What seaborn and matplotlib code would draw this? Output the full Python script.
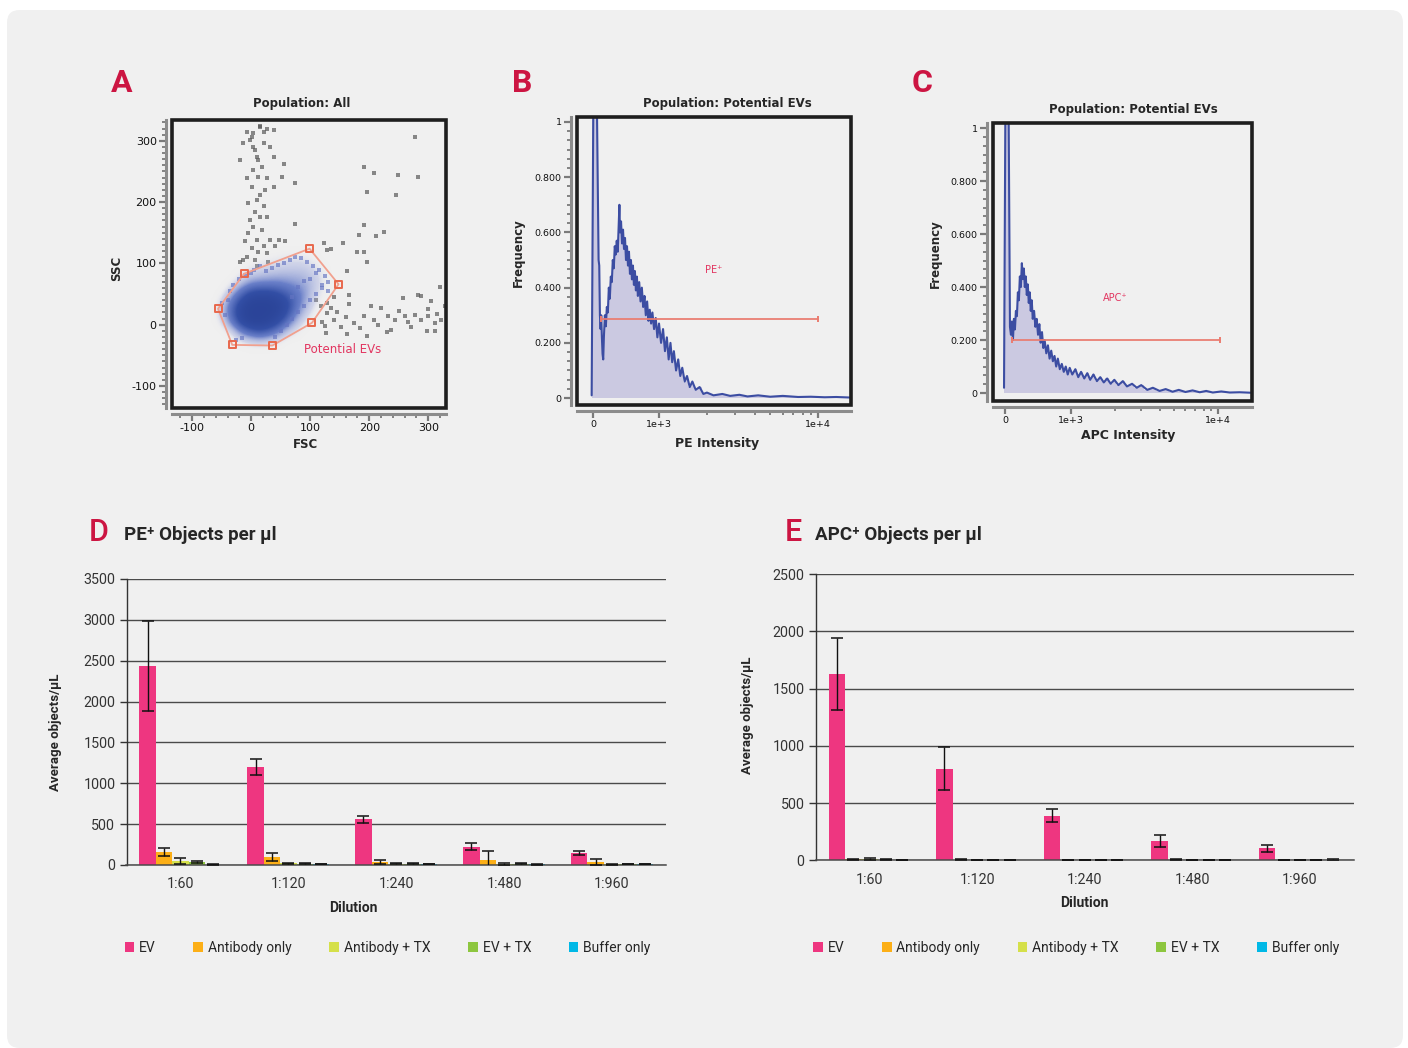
import matplotlib
matplotlib.use("Agg")
import matplotlib.pyplot as plt
from matplotlib.patches import FancyBboxPatch, Rectangle
from matplotlib.colors import LinearSegmentedColormap
from matplotlib.ticker import FixedLocator, MultipleLocator
import numpy as np
import pandas as pd
import seaborn as sns

sns.set_theme(style="white")
plt.rcParams['font.family'] = ['DejaVu Sans']
plt.rcParams['axes.unicode_minus'] = False

# ---- panel A: sparse events outside the gate ----
grey_fsc = [-19, -13, -7, -2, 4, 10, 15, 21, 18, 12, 1, 10, 21, 15, 4, -5, 10, 21, 1, -7,
            7, -13, 27, 32, 27, 24, 32, 38, 4, 12, -5, 18, 12, -2, 27, -7, 7, 1, 21, 15,
            7, -10, 29, -19, 10, 41, 4, 27, 15, 38, 38, 47, 58, 55, 52, 75, 75,
            191, 208, 248, 282, 277, 245, 197, 191, 225, 211, 183, 180, 191, 197, 155, 129, 135, 124, 163, 166,
            129, 140, 152, 174, 191, 208, 231, 243, 260, 277, 288, 299, 311, 322, 257, 282, 305, 319, 288, 271,
            237, 197, 163, 126, 118, 129, 135, 166, 220, 203, 297, 311, 328, 120, 145, 160, 215, 250, 265, 300,
            315, 185, 230, 110, 140, 125]
grey_ssc = [269, 296, 315, 301, 290, 274, 323, 315, 258, 241, 225, 203, 193, 176, 160, 149, 138, 128, 125, 111,
            106, 106, 117, 138, 176, 220, 290, 318, 252, 269, 198, 155, 119, 171, 239, 239, 285, 307, 296, 212,
            184, 136, 103, 103, 95, 128, 312, 320, 324, 274, 225, 138, 136, 262, 241, 231, 165,
            258, 247, 244, 241, 307, 212, 217, 163, 152, 144, 147, 119, 118, 102, 133, 122, 123, 133, 87, 49,
            19, 8, -3, 3, 14, 8, 14, 8, 14, 16, 8, 14, 3, 8, 43, 49, 38, 62, 46, -3,
            -8, -19, -16, -14, 30, 35, 27, 33, 27, 30, -11, -11, 30, 5, 20, 12, 0, 22, 5, 25,
            18, -5, -12, 40, 45, -2]

# ---- panel A: loose events around the edge of the gated cloud ----
edge_fsc = [-40, -35, -45, -30, -20, -10, 0, 5, 15, 25, 35, 45, 55, 65, 75, 85, 95, 105, 115, 125,
            130, 120, 110, 100, 90, 80, 70, 60, 50, 40, -25, -15, -50, 100, 110, 120, 90, 80, 70, 130]
edge_ssc = [40, 55, 15, 65, 75, 80, 85, 90, 95, 88, 92, 98, 100, 105, 110, 108, 102, 95, 90, 80,
            70, 60, 50, 40, 30, 20, 10, 0, -10, -20, -25, -22, 35, 75, 85, 65, 72, 62, 45, 55]

# ---- panel A: density of the gated cloud on a coarse grid ----
cloud_fsc = [-60, -45, -30, -15, 0, 15, 30, 45, 60, 75, 90, 105, 120, 135, 150]
cloud_ssc = [-40, -25, -10, 5, 20, 35, 50, 65, 80, 95, 110, 125]
cloud_density = [
    [0, 0, 0, 0, 0, 0, 0, 0, 0, 0, 0, 0, 0, 0, 0],
    [0, 0, 0, .05, .1, .15, .1, .05, 0, 0, 0, 0, 0, 0, 0],
    [0, 0, .1, .4, .6, .7, .6, .4, .15, .05, 0, 0, 0, 0, 0],
    [0, .1, .45, .85, 1, 1, .95, .8, .5, .2, .05, 0, 0, 0, 0],
    [0, .2, .6, .95, 1, 1, 1, .95, .75, .4, .15, .03, 0, 0, 0],
    [0, .15, .5, .85, 1, 1, 1, .95, .8, .5, .25, .08, 0, 0, 0],
    [0, .03, .25, .55, .8, .85, .85, .75, .6, .45, .3, .12, .03, 0, 0],
    [0, 0, .05, .2, .35, .4, .4, .4, .35, .3, .25, .15, .05, 0, 0],
    [0, 0, 0, .05, .12, .15, .18, .2, .2, .2, .18, .12, .05, 0, 0],
    [0, 0, 0, 0, .03, .05, .07, .08, .1, .1, .1, .06, .02, 0, 0],
    [0, 0, 0, 0, 0, 0, .02, .03, .04, .05, .04, .02, 0, 0, 0],
    [0, 0, 0, 0, 0, 0, 0, 0, 0, 0, 0, 0, 0, 0, 0],
]
gate_fsc = [-12, 99, 148, 103, 36, -32, -56]
gate_ssc = [83, 124, 66, 3, -34, -33, 26]

# ---- panel B: PE histogram ----
pe_intensity = [-20, 5, 30, 60, 85, 95, 105, 115, 125, 135, 145, 155, 165, 180, 195, 210, 225, 240, 255, 270,
                285, 300, 315, 330, 345, 360, 375, 390, 400, 410, 425, 440, 455, 470, 485, 500, 515, 530, 545, 560,
                575, 590, 605, 620, 635, 650, 665, 680, 700, 720, 740, 760, 780, 800, 820, 840, 860, 880, 900, 925,
                950, 975, 1000, 1030, 1060, 1090, 1120, 1150, 1180, 1210, 1240, 1280, 1320, 1360, 1400, 1450, 1500,
                1560, 1620, 1700, 1800, 1900, 2000, 2200, 2500, 2800, 3200, 3600, 4200, 5000, 6000, 7500, 9000,
                11000, 13000, 16000]
pe_freq = [0.01, 1.05, 1.05, 1.05, 0.50, 0.48, 0.30, 0.25, 0.30, 0.22, 0.16, 0.14, 0.22, 0.30, 0.26, 0.33, 0.31,
           0.40, 0.36, 0.44, 0.42, 0.50, 0.47, 0.55, 0.52, 0.57, 0.53, 0.63, 0.70, 0.60, 0.64, 0.56, 0.61, 0.54,
           0.58, 0.50, 0.55, 0.48, 0.53, 0.45, 0.50, 0.43, 0.48, 0.41, 0.46, 0.39, 0.44, 0.37, 0.42, 0.35, 0.40,
           0.33, 0.37, 0.30, 0.35, 0.28, 0.32, 0.27, 0.31, 0.25, 0.29, 0.22, 0.27, 0.20, 0.25, 0.17, 0.22, 0.14,
           0.20, 0.13, 0.17, 0.10, 0.14, 0.08, 0.11, 0.06, 0.08, 0.04, 0.06, 0.03, 0.04, 0.015, 0.02, 0.01, 0.015,
           0.008, 0.012, 0.006, 0.01, 0.005, 0.008, 0.004, 0.005, 0.003, 0.004, 0.002]
pe_gate = [121, 10040]
pe_gate_level = 0.285

# ---- panel C: APC histogram ----
apc_intensity = [-15, 5, 30, 55, 75, 90, 105, 120, 135, 150, 165, 180, 195, 210, 225, 240, 255, 270, 285, 300,
                 315, 330, 345, 360, 375, 390, 405, 420, 440, 460, 480, 500, 520, 540, 560, 580, 600, 625, 650,
                 675, 700, 725, 750, 775, 800, 830, 860, 890, 920, 950, 980, 1020, 1070, 1120, 1170, 1230, 1290,
                 1350, 1420, 1500, 1580, 1670, 1760, 1860, 1970, 2100, 2250, 2400, 2600, 2800, 3000, 3300, 3600,
                 4000, 4400, 4900, 5400, 6000, 6700, 7500, 8300, 9200, 10500, 12000, 14000, 17000]
apc_freq = [0.02, 1.05, 1.05, 1.05, 0.25, 0.22, 0.27, 0.20, 0.28, 0.24, 0.31, 0.29, 0.38, 0.35, 0.44, 0.40, 0.49,
            0.43, 0.47, 0.40, 0.44, 0.37, 0.41, 0.34, 0.38, 0.31, 0.35, 0.28, 0.31, 0.25, 0.28, 0.22, 0.26, 0.19,
            0.23, 0.17, 0.20, 0.15, 0.18, 0.13, 0.16, 0.12, 0.14, 0.10, 0.13, 0.09, 0.11, 0.08, 0.10, 0.07, 0.095,
            0.07, 0.09, 0.06, 0.08, 0.055, 0.075, 0.05, 0.07, 0.045, 0.06, 0.04, 0.055, 0.035, 0.05, 0.03, 0.045,
            0.025, 0.035, 0.02, 0.03, 0.012, 0.02, 0.008, 0.015, 0.005, 0.012, 0.004, 0.01, 0.003, 0.008, 0.002,
            0.006, 0.002, 0.003, 0.001]
apc_gate = [100, 10300]
apc_gate_level = 0.2

# ---- panels D / E: bar charts ----
dilutions = ['1:60', '1:120', '1:240', '1:480', '1:960']
conditions = ['EV', 'Antibody only', 'Antibody + TX', 'EV + TX', 'Buffer only']
colors = ['#ee3680', '#fcaf17', '#d5e04a', '#8dc63f', '#00b8e6']

pe_ev = [2440, 1200, 560, 225, 150]
pe_ev_err = [550, 95, 40, 45, 22]
pe_ab = [160, 95, 42, 60, 33]
pe_ab_err = [53, 50, 25, 110, 35]
pe_abtx = [45, 20, 15, 15, 10]
pe_abtx_err = [35, 6, 5, 15, 5]
pe_evtx = [35, 18, 15, 15, 12]
pe_evtx_err = [8, 4, 4, 5, 4]
pe_buf = [5, 15, 12, 8, 15]
pe_buf_err = [3, 3, 3, 3, 3]

apc_ev = [1630, 800, 390, 170, 105]
apc_ev_err = [315, 185, 55, 50, 32]
apc_ab = [8, 5, 3, 5, 2]
apc_ab_err = [4, 3, 2, 2, 2]
apc_abtx = [10, 4, 2, 2, 1]
apc_abtx_err = [8, 2, 1, 1, 1]
apc_evtx = [5, 2, 1, 1, 1]
apc_evtx_err = [2, 1, 1, 1, 1]
apc_buf = [3, 2, 2, 2, 0]
apc_buf_err = [1, 1, 1, 1, 10]

W, H = 1408, 1048
BG = '#f0f0f0'
RED = '#cc1542'
GATE_TXT = '#e23560'
HIST_LINE = '#3c4da2'
HIST_FILL = '#cbc9e1'

fig = plt.figure(figsize=(W / 100, H / 100), dpi=100, facecolor='white')
fig.add_artist(FancyBboxPatch((7 / W, 0), (1403 - 7) / W, (H - 10) / H,
                              boxstyle='round,pad=0,rounding_size=0.009', mutation_aspect=W / H,
                              transform=fig.transFigure, facecolor=BG, edgecolor='none', zorder=-5))


def ftext(x, y, s, **kw):
    kw.setdefault('ha', 'center')
    kw.setdefault('va', 'center')
    fig.text(x / W, 1 - y / H, s, **kw)


def box(x0, y0, x1, y1):
    return [x0 / W, 1 - y1 / H, (x1 - x0) / W, (y1 - y0) / H]


def flow_axes(ax):
    ax.set_facecolor(BG)
    for side in ['top', 'right']:
        ax.spines[side].set_visible(False)
    for side in ['left', 'bottom']:
        ax.spines[side].set_position(('outward', 4))
        ax.spines[side].set_color('#8c8c8c')
        ax.spines[side].set_linewidth(2.2)
    ax.add_patch(Rectangle((0, 0), 1, 1, transform=ax.transAxes, fill=False,
                           edgecolor='#1e1e1e', lw=2.6, clip_on=False, zorder=6))
    ax.tick_params(which='both', direction='out', colors='#7a7a7a', labelcolor='#111111',
                   left=True, bottom=True)
    ax.tick_params(which='major', length=5, width=1.6, pad=2)
    ax.tick_params(which='minor', length=3, width=1.3)


# ================= A =================
axA = fig.add_axes(box(172, 120, 446, 408))
flow_axes(axA)
sns.scatterplot(x=grey_fsc, y=grey_ssc, s=5, marker='s', color='#5a5a5a', alpha=0.7,
                linewidth=0, ax=axA, zorder=2)
cloud_cmap = LinearSegmentedColormap.from_list('cloud', [
    (0.0, (0.94, 0.94, 0.94, 0.0)),
    (0.08, (0.58, 0.63, 0.86, 0.35)),
    (0.35, (0.32, 0.42, 0.76, 0.85)),
    (0.7, (0.2, 0.31, 0.65, 1.0)),
    (1.0, (0.17, 0.27, 0.6, 1.0))])
step_f = cloud_fsc[1] - cloud_fsc[0]
step_s = cloud_ssc[1] - cloud_ssc[0]
axA.imshow(np.array(cloud_density), origin='lower', aspect='auto', interpolation='bicubic',
           cmap=cloud_cmap, vmin=0, vmax=1, zorder=3,
           extent=(cloud_fsc[0] - step_f / 2, cloud_fsc[-1] + step_f / 2,
                   cloud_ssc[0] - step_s / 2, cloud_ssc[-1] + step_s / 2))
sns.scatterplot(x=edge_fsc, y=edge_ssc, s=5, marker='s', color='#6474c2', alpha=0.65,
                linewidth=0, ax=axA, zorder=3)
axA.plot(gate_fsc + gate_fsc[:1], gate_ssc + gate_ssc[:1], color='#f1a08e', lw=1.3, zorder=4)
axA.scatter(gate_fsc, gate_ssc, marker='s', facecolors='none', edgecolors='#e8684c',
            s=26, linewidths=1.4, zorder=5)
axA.text(89, -40, 'Potential EVs', color=GATE_TXT, fontsize=8.5, ha='left', va='center')
axA.set_xlim(-134, 330)
axA.set_ylim(-136, 334)
axA.xaxis.set_major_locator(FixedLocator([-100, 0, 100, 200, 300]))
axA.yaxis.set_major_locator(FixedLocator([-100, 0, 100, 200, 300]))
axA.xaxis.set_minor_locator(MultipleLocator(20))
axA.yaxis.set_minor_locator(MultipleLocator(10))
axA.tick_params(labelsize=8)


# ================= B / C =================
def hist_panel(rect, intens, freq, gate, level, label, label_pos, linscale, xmin, xmax, ymin, ymax):
    ax = fig.add_axes(rect)
    flow_axes(ax)
    ax.set_xscale('symlog', linthresh=1000, linscale=linscale)
    ax.fill_between(intens, freq, step='mid', color=HIST_FILL, lw=0, zorder=2)
    sns.lineplot(x=intens, y=freq, color=HIST_LINE, lw=1.5, ax=ax, zorder=3, estimator=None)
    ax.plot(gate, [level, level], color='#ea7c70', lw=1.4, zorder=4, alpha=0.9)
    ax.plot(gate, [level, level], ls='none', marker='|', ms=5, mew=1.4, color='#ea7c70', zorder=4)
    ax.text(label_pos[0], label_pos[1], label, color=GATE_TXT, fontsize=7, ha='center', va='center')
    ax.set_xlim(xmin, xmax)
    ax.set_ylim(ymin, ymax)
    ax.set_xticks([0, 1000, 10000], ['0', '1e+3', '1e+4'])
    ax.xaxis.set_minor_locator(FixedLocator([2000, 3000, 4000, 5000, 6000, 7000, 8000, 9000]))
    ax.set_yticks([0, 0.2, 0.4, 0.6, 0.8, 1.0], ['0', '0.200', '0.400', '0.600', '0.800', '1'])
    ax.yaxis.set_minor_locator(MultipleLocator(0.2 / 6))
    ax.tick_params(labelsize=6.8)
    return ax


axB = hist_panel(box(577, 117, 851, 405), pe_intensity, pe_freq, pe_gate, pe_gate_level,
                 'PE⁺', (2220, 0.464), 0.3736, -242, 16100, -0.025, 1.018)
axC = hist_panel(box(993, 123, 1252, 401), apc_intensity, apc_freq, apc_gate, apc_gate_level,
                 'APC⁺', (2000, 0.36), 0.404, -182, 17000, -0.03, 1.019)

# flow panel texts
for x, y, s in [(111, 83, 'A'), (512, 83, 'B'), (912, 83, 'C')]:
    ftext(x, y, s, ha='left', color=RED, fontsize=23, fontweight='bold', family=['Roboto', 'DejaVu Sans'])
ftext(302, 104, 'Population: All', fontsize=8.5, fontweight='bold')
ftext(727, 104, 'Population: Potential EVs', fontsize=8.5, fontweight='bold')
ftext(1133, 109, 'Population: Potential EVs', fontsize=8.5, fontweight='bold')
ftext(117, 268, 'SSC', fontsize=8.5, fontweight='bold', rotation=90)
ftext(305, 444, 'FSC', fontsize=8.5, fontweight='bold')
ftext(518, 253, 'Frequency', fontsize=8.5, fontweight='bold', rotation=90)
ftext(717, 444, 'PE Intensity', fontsize=9, fontweight='bold')
ftext(935, 254, 'Frequency', fontsize=8.5, fontweight='bold', rotation=90)
ftext(1128, 435, 'APC Intensity', fontsize=9, fontweight='bold')

# ================= D / E =================
BAR_FONT = ['Roboto', 'DejaVu Sans']


def bar_panel(rect, means, errs, ymax, xlabel_x, ylabel_xy, legend_y):
    ax = fig.add_axes(rect)
    rows = []
    for cond, vals in zip(conditions, means):
        for dil, v in zip(dilutions, vals):
            rows.append({'Dilution': dil, 'Condition': cond, 'Objects': v})
    df = pd.DataFrame(rows)
    sns.barplot(data=df, x='Dilution', y='Objects', hue='Condition', hue_order=conditions,
                palette=colors, width=0.76, errorbar=None, saturation=1, linewidth=0, ax=ax)
    for cont, err in zip(ax.containers, errs):
        xs = [b.get_x() + b.get_width() / 2 for b in cont]
        ys = [b.get_height() for b in cont]
        ax.errorbar(xs, ys, yerr=err, fmt='none', ecolor='#111111', elinewidth=1,
                    capsize=4.5, capthick=1.1, zorder=4)
    ax.set_facecolor('none')
    ax.set_xlim(-0.5, 4.5)
    ax.set_ylim(0, ymax)
    ax.yaxis.set_major_locator(MultipleLocator(500))
    ax.yaxis.grid(True, color='#4a4a4a', lw=1)
    ax.set_axisbelow(True)
    for side in ['top', 'right']:
        ax.spines[side].set_visible(False)
    ax.spines['left'].set_color('#333333')
    ax.spines['left'].set_linewidth(1)
    ax.spines['bottom'].set_color('#4a4a4a')
    ax.spines['bottom'].set_linewidth(1.1)
    ax.tick_params(axis='y', direction='out', length=5, width=1, color='#333333', left=True,
                   labelsize=10.3, labelcolor='#333333', labelfontfamily='Roboto', pad=3)
    ax.tick_params(axis='x', length=0, labelsize=10.3, labelcolor='#333333',
                   labelfontfamily='Roboto', pad=9)
    ax.set_xlabel('Dilution', fontsize=10, fontweight='bold', family=BAR_FONT)
    ax.xaxis.set_label_coords(xlabel_x, -0.125)
    ax.set_ylabel('Average objects/µL', fontsize=9.5, fontweight='bold', family=BAR_FONT)
    ax.yaxis.set_label_coords(*ylabel_xy)
    sns.move_legend(ax, 'center', bbox_to_anchor=(0.484, legend_y), ncol=5, frameon=False, title=None,
                    handlelength=0.7, handleheight=0.7, handletextpad=0.35, columnspacing=2.7,
                    prop={'family': 'Roboto', 'size': 10})
    return ax


axD = bar_panel(box(126.5, 579, 666, 865),
                [pe_ev, pe_ab, pe_abtx, pe_evtx, pe_buf],
                [pe_ev_err, pe_ab_err, pe_abtx_err, pe_evtx_err, pe_buf_err],
                3500, 0.42, (-0.12, 0.465), -0.29)
axE = bar_panel(box(815.7, 574, 1353.7, 860.3),
                [apc_ev, apc_ab, apc_abtx, apc_evtx, apc_buf],
                [apc_ev_err, apc_ab_err, apc_abtx_err, apc_evtx_err, apc_buf_err],
                2500, 0.5, (-0.115, 0.507), -0.306)

ftext(89, 533, 'D', ha='left', color=RED, fontsize=22, fontweight='medium', family=BAR_FONT)
ftext(124, 535, 'PE⁺ Objects per µl', ha='left', fontsize=13.5, fontweight='bold', family=BAR_FONT)
ftext(785, 533, 'E', ha='left', color=RED, fontsize=22, fontweight='medium', family=BAR_FONT)
ftext(815, 535, 'APC⁺ Objects per µl', ha='left', fontsize=13.5, fontweight='bold', family=BAR_FONT)

fig.savefig('out.png', dpi=100, facecolor='white')
